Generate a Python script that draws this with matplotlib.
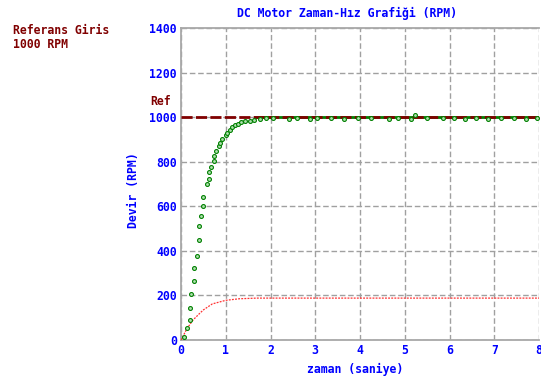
import matplotlib
matplotlib.use("Agg")
import matplotlib.pyplot as plt

# measured speed samples (seconds, rpm)
time_s = [0.07, 0.13, 0.19, 0.19, 0.22, 0.28, 0.28, 0.35, 0.41, 0.41,
          0.44, 0.50, 0.50, 0.57, 0.63, 0.63, 0.67, 0.73, 0.73, 0.79,
          0.84, 0.87, 0.91, 1.00, 1.03, 1.09, 1.13, 1.20, 1.27, 1.35,
          1.44, 1.55, 1.64, 1.76, 1.90, 2.05, 2.42, 2.60, 2.89, 3.05,
          3.35, 3.64, 3.95, 4.24, 4.64, 4.85, 5.13, 5.22, 5.50, 5.85,
          6.10, 6.35, 6.60, 6.87, 7.15, 7.45, 7.71, 7.95]
speed_rpm = [15, 55, 90, 143, 207, 265, 323, 378, 450, 513,
             558, 603, 642, 699, 723, 753, 776, 803, 825, 848,
             870, 885, 903, 918, 930, 942, 956, 963, 971, 978,
             981, 981, 987, 990, 995, 997, 990, 998, 990, 998,
             997, 990, 998, 997, 990, 998, 990, 1010, 998, 997,
             998, 990, 998, 990, 998, 997, 990, 998]

# steady-state line and reference
steady_t = [1.65, 8.0]
steady_rpm = [1000, 1000]
ref_t = [0, 8]
ref_rpm = [1000, 1000]

# control signal (red dotted)
ctrl_t = [0, 0.04, 0.13, 0.27, 0.42, 0.50, 0.70, 1.00, 1.30, 1.70, 2.5, 8.0]
ctrl_val = [0, 15, 50, 90, 120, 135, 162, 178, 185, 188, 188, 188]

xticks = [0, 1, 2, 3, 4, 5, 6, 7, 8]
yticks = [0, 200, 400, 600, 800, 1000, 1200, 1400]

blue = "#0000ff"
dred = "#800000"
font = dict(family="DejaVu Sans Mono", weight="bold", size=8.3)

fig = plt.figure(figsize=(5.41, 3.76), dpi=100)
ax = fig.add_axes([181 / 541, 36 / 376, 358 / 541, 312 / 376])

ax.set_xlim(0, 8)
ax.set_ylim(0, 1400)
ax.set_xticks(xticks)
ax.set_yticks(yticks)
ax.set_xticklabels([str(v) for v in xticks], color=blue, **font)
ax.set_yticklabels([str(v) for v in yticks], color=blue, **font)
ax.tick_params(length=0, pad=3)

ax.grid(True, color="#a0a0a0", linestyle=(0, (4, 2)), linewidth=1)
for side in ["left", "bottom", "top"]:
    ax.spines[side].set_color("#a8a8a8")
    ax.spines[side].set_linewidth(1.3)
ax.spines["right"].set_visible(False)

ax.plot(ctrl_t, ctrl_val, color="#ff3030", linestyle=(0, (1.5, 1)), linewidth=0.9, zorder=3)
ax.plot(steady_t, steady_rpm, color="#008000", linewidth=2, zorder=3)
ax.plot(ref_t, ref_rpm, color=dred, linestyle=(0, (4, 1.2)), linewidth=2, zorder=4)
ax.plot(time_s, speed_rpm, linestyle="none", marker="o", markersize=2.8,
        markerfacecolor="#b0e0b0", markeredgecolor="#008000", markeredgewidth=0.8,
        zorder=5, clip_on=False)

fig.text(347 / 541, 1 - 13 / 376, "DC Motor Zaman-Hız Grafiği (RPM)",
         color=blue, ha="center", va="center", **font)
fig.text(13 / 541, 1 - 30 / 376, "Referans Giris", color=dred, ha="left", va="center", **font)
fig.text(13 / 541, 1 - 44 / 376, "1000 RPM", color=dred, ha="left", va="center", **font)
fig.text(150 / 541, 1 - 102 / 376, "Ref", color=dred, ha="left", va="center", **font)
fig.text(134 / 541, 1 - 190 / 376, "Devir (RPM)", color=blue, rotation=90,
         ha="center", va="center", **font)
fig.text(355 / 541, 1 - 369 / 376, "zaman (saniye)", color=blue,
         ha="center", va="center", **font)

fig.savefig("out.png", dpi=100)
